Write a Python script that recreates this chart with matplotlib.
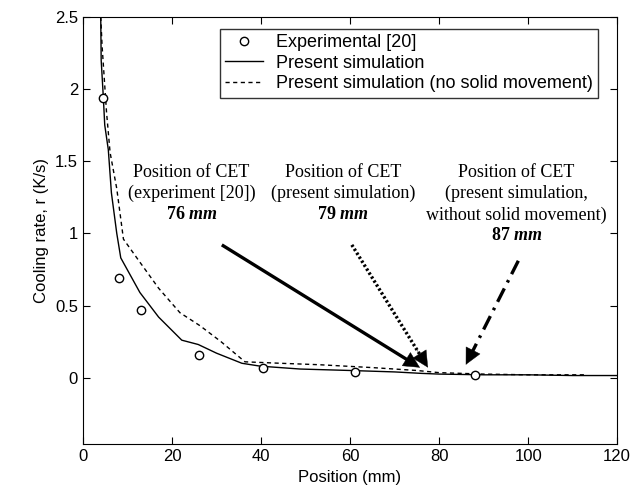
import matplotlib.pyplot as plt
import numpy as np

# experimental data [20]
exp_x = [4.5, 8, 13, 26, 40.5, 61, 88]
exp_y = [1.94, 0.69, 0.47, 0.16, 0.07, 0.04, 0.02]

# present simulation
sim_x = [4.0, 4.1, 4.57, 4.9, 5.7, 6.4, 7.6, 8.5, 12.8, 17, 22.2, 25.9, 30, 35.7, 39.8, 48.8, 60, 70, 76, 80, 90, 100, 110, 120]
sim_y = [2.5, 2.2, 1.95, 1.75, 1.58, 1.28, 1.0, 0.83, 0.59, 0.42, 0.26, 0.23, 0.17, 0.10, 0.08, 0.06, 0.05, 0.04, 0.03, 0.025, 0.02, 0.02, 0.015, 0.015]

# present simulation (no solid movement)
nsm_x = [4.0, 4.3, 5.3, 6.1, 7.6, 9.1, 12.8, 17, 21.8, 26.3, 31, 36.4, 44.3, 53, 65, 75, 80, 90, 100, 113]
nsm_y = [2.5, 2.3, 1.84, 1.56, 1.31, 0.96, 0.80, 0.62, 0.45, 0.36, 0.25, 0.11, 0.10, 0.09, 0.07, 0.05, 0.035, 0.025, 0.02, 0.02]

# CET annotations: label lines, value, arrow tail and head
cet_text = [['Position of CET', '(experiment [20])'],
            ['Position of CET', '(present simulation)'],
            ['Position of CET', '(present simulation,', 'without solid movement)']]
cet_val = ['76', '79', '87']
cet_tx = [24.4, 58.4, 97.4]
arrow_tail = [(31.2, 0.92), (60.4, 0.92), (97.8, 0.81)]
arrow_head = [(75.7, 0.07), (77.5, 0.07), (86.0, 0.09)]
arrow_ls = ['-', (0, (0.7, 0.7)), (0, (4.5, 2, 0.8, 2))]

plt.rcParams['font.family'] = ['Liberation Sans', 'DejaVu Sans']
plt.rcParams['mathtext.fontset'] = 'custom'
plt.rcParams['mathtext.rm'] = 'Liberation Serif'
plt.rcParams['mathtext.bf'] = 'Liberation Serif:bold'
plt.rcParams['mathtext.it'] = 'Liberation Serif:italic'
plt.rcParams['mathtext.bfit'] = 'Liberation Serif:italic:bold'

fig = plt.figure(figsize=(6.33, 4.94), dpi=100)
ax = fig.add_axes([0.131, 0.101, 0.844, 0.865])

ax.plot(exp_x, exp_y, 'o', mfc='white', mec='black', ms=6, mew=1, label='Experimental [20]', zorder=4)
ax.plot(sim_x, sim_y, '-', color='black', lw=1, label='Present simulation')
ax.plot(nsm_x, nsm_y, '--', color='black', lw=1, dashes=(3, 2.5), label='Present simulation (no solid movement)')

ax.set_xlim(0, 120)
ax.set_ylim(-0.46, 2.5)
ax.set_xticks(np.arange(0, 121, 20))
ax.set_yticks([0, 0.5, 1, 1.5, 2, 2.5])
ax.set_yticklabels(['0', '0.5', '1', '1.5', '2', '2.5'])
ax.tick_params(direction='in', top=True, right=True, labelsize=12, length=5)
ax.set_xlabel('Position (mm)', fontsize=12)
ax.set_ylabel('Cooling rate, r (K/s)', fontsize=12)

leg = ax.legend(loc='upper right', bbox_to_anchor=(0.964, 0.972), fontsize=13, frameon=True,
                fancybox=False, edgecolor='black', handlelength=2.1, borderpad=0.3,
                labelspacing=0.2, handletextpad=0.7, borderaxespad=0)
leg.get_frame().set_linewidth(1)

serif = ['Liberation Serif', 'DejaVu Serif']
ts = 13
for lines, val, tx in zip(cet_text, cet_val, cet_tx):
    y = 1.42
    for line in lines:
        ax.text(tx, y, line, ha='center', va='center', fontsize=ts, family=serif)
        y -= 0.146
    ax.text(tx, y, r'$\mathbf{' + val + r'}\ \mathbfit{mm}$', ha='center', va='center', fontsize=ts)

for tail, head, ls in zip(arrow_tail, arrow_head, arrow_ls):
    # shaft, stopping under the head (about 11 px back from the tip)
    t_px = ax.transData.transform(tail)
    h_px = ax.transData.transform(head)
    d = (t_px - h_px) / np.hypot(*(t_px - h_px))
    stop = ax.transData.inverted().transform(h_px + 11 * d)
    ax.plot([tail[0], stop[0]], [tail[1], stop[1]], color='black', lw=2.4,
            linestyle=ls, solid_capstyle='butt', dash_capstyle='butt')
    # solid head
    near = ax.transData.inverted().transform(h_px + 22 * d)
    ax.annotate('', xy=head, xytext=near,
                arrowprops=dict(arrowstyle='-|>', color='black', lw=0.3,
                                mutation_scale=28, shrinkA=0, shrinkB=0))

plt.show()
fig.savefig('out.png', dpi=100)
